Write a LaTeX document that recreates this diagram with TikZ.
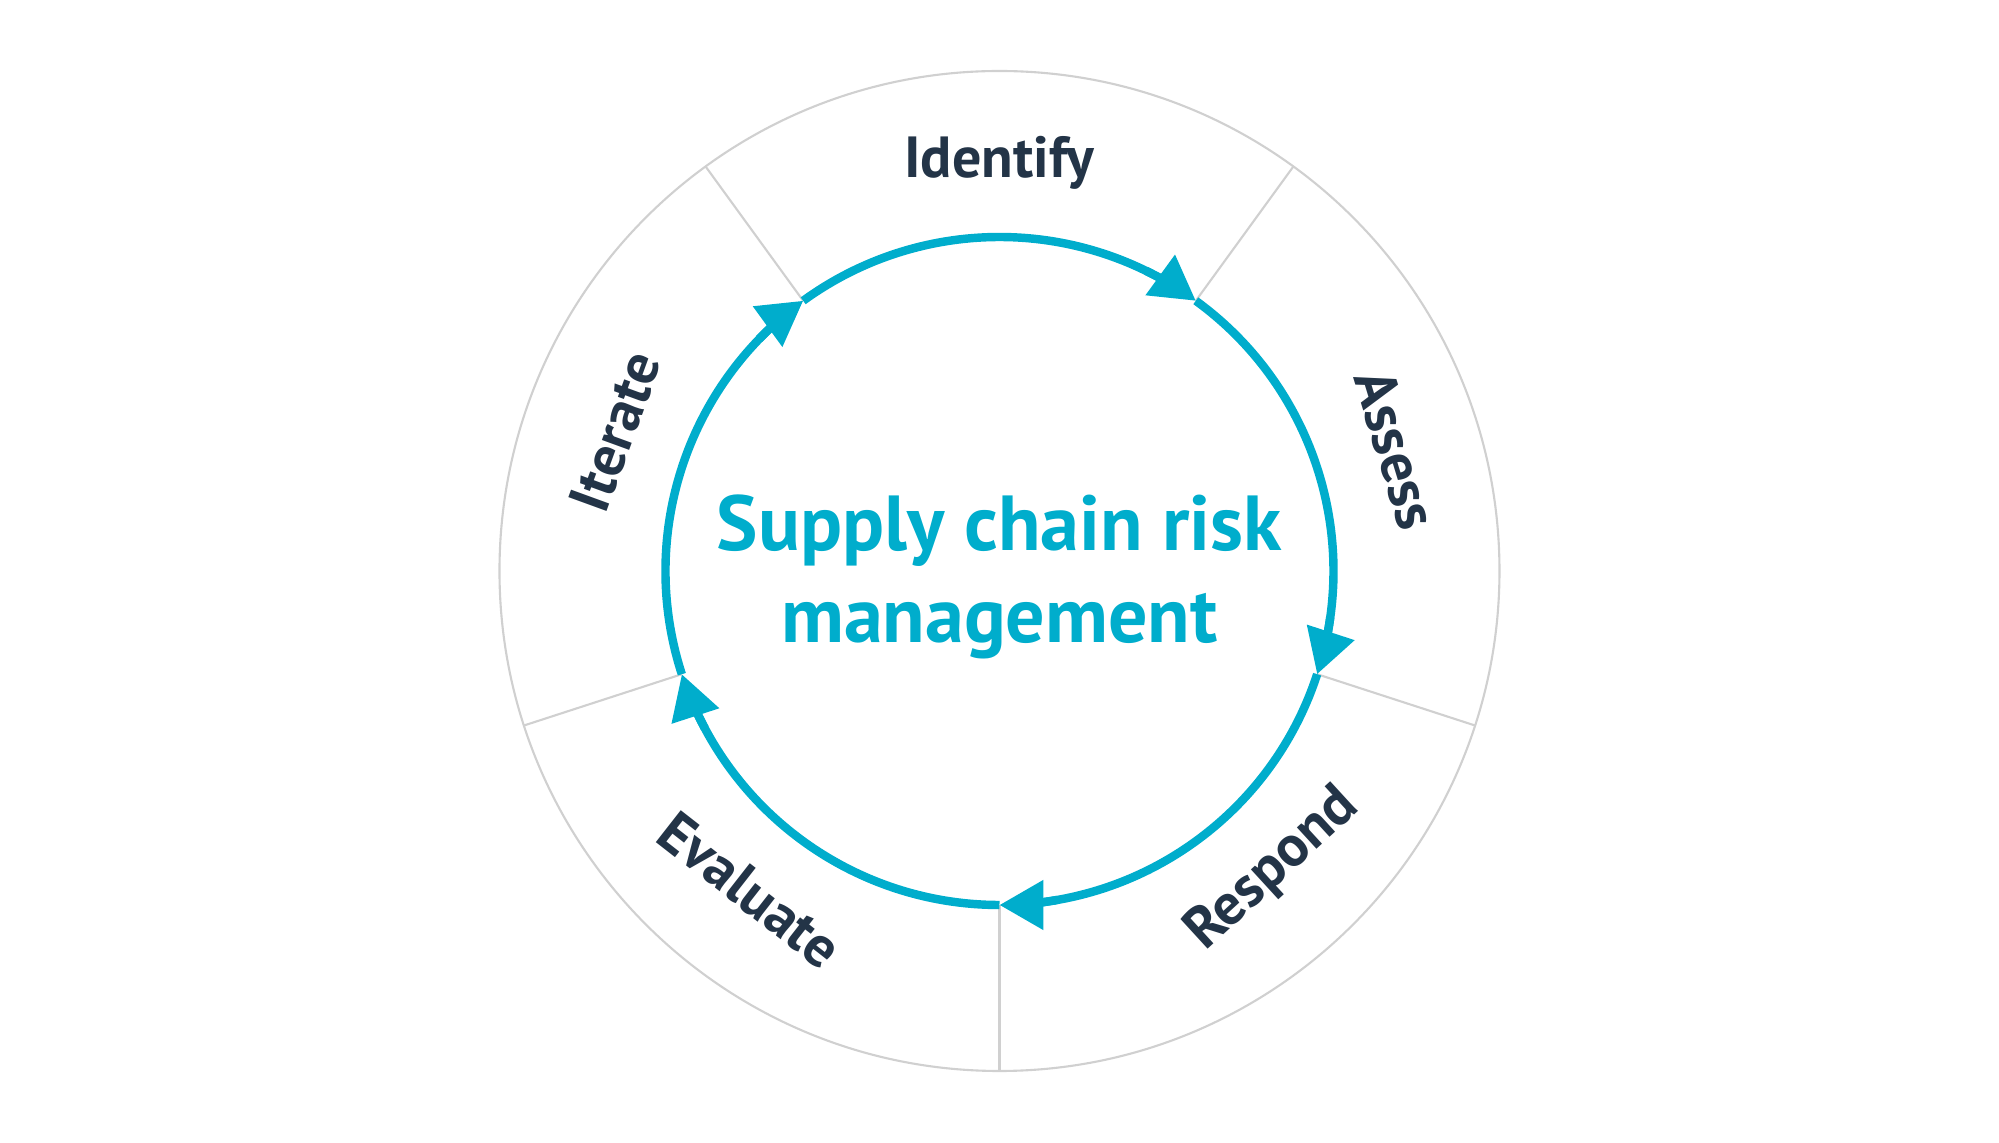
\documentclass[tikz,border=0pt]{standalone}
\usepackage{fontspec}
\setmainfont{PT Sans}
\usepackage{xcolor}
\usepackage{tikz}
\usetikzlibrary{arrows.meta}

\definecolor{scmcyan}{HTML}{00ADCC}
\definecolor{scmnavy}{HTML}{233447}
\definecolor{scmgray}{HTML}{D0D0D0}

\begin{document}
\begin{tikzpicture}[
ring/.style={draw=scmgray, line width=0.6pt},
cyc/.style={draw=scmcyan, line width=2.4pt},
cyctip/.style={draw=scmcyan, line width=2.4pt, -{Triangle[length=0.44cm, width=0.48cm]}},
stage/.style={font=\fontsize{16.5}{20}\selectfont\bfseries, text=scmnavy, inner sep=0pt},
title/.style={align=center, font=\fontsize{22.2}{26}\selectfont\bfseries, text=scmcyan}
]
\useasboundingbox (-9.995,-5.72) rectangle (9.995,5.71);
\coordinate (c) at (0,0);
% outer ring and the five sectors
\draw[ring] (c) circle[radius=5.0];
\foreach \a in {54,126,198,270,342}
  \draw[ring] (\a:3.34) -- (\a:5.0);
% points on the cycle
\coordinate (p1) at (126:3.34);
\coordinate (p2) at (54:3.34);
\coordinate (p3) at (-18:3.34);
\coordinate (p4) at (-90:3.34);
\coordinate (p5) at (-162:3.34);
% cycle arcs, each ending in a tip at the next point
\foreach \s in {126,54,-18,-90,-162}{
  \draw[cyc] (\s:3.34) arc[start angle=\s, end angle=\s-68, radius=3.34];
  \draw[cyctip] (\s-62:3.34) arc[start angle=\s-62, end angle=\s-72, radius=3.34];
}
% stage labels
\node[stage] (identify) at (90:4.08) {Identify};
\node[stage, rotate=-73] (assess) at (17:4.15) {Assess};
\node[stage, rotate=42.5] (respond) at (-47.5:4.05) {Respond};
\node[stage, rotate=-38] (evaluate) at (-128:4.05) {Evaluate};
\node[stage, rotate=70] (iterate) at (160:4.09) {Iterate};
% centre text
\node[title] (scrm) at (0,-0.06) {Supply chain risk\\[0pt]management};
\end{tikzpicture}
\end{document}
